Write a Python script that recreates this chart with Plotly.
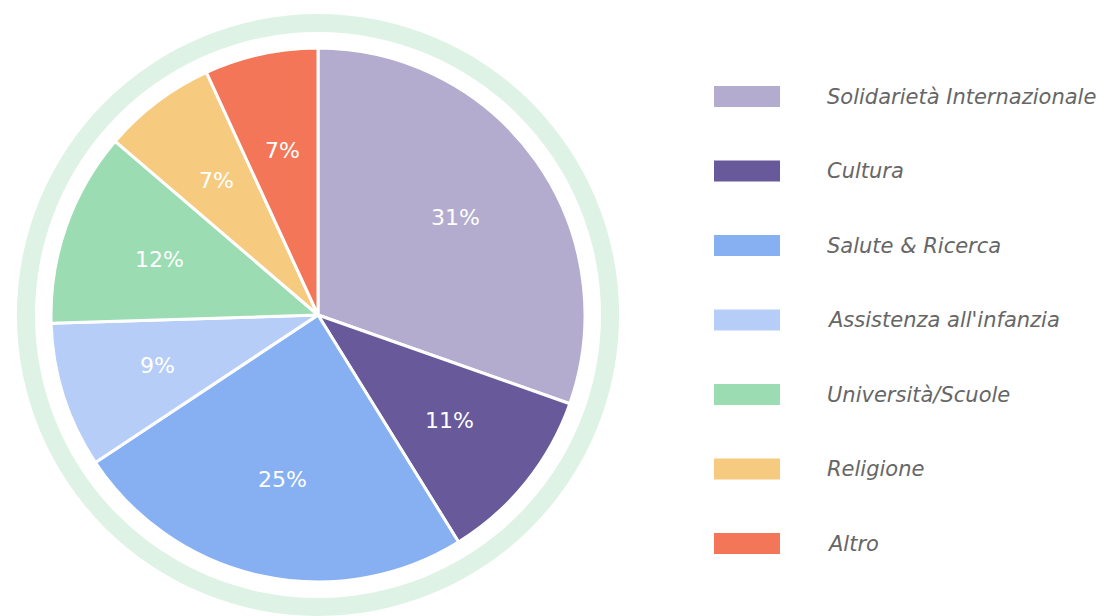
import math
import plotly.graph_objects as go

categories = ["Solidarietà Internazionale", "Cultura", "Salute & Ricerca",
              "Assistenza all'infanzia", "Università/Scuole", "Religione", "Altro"]
values = [31, 11, 25, 9, 12, 7, 7]
colors = ["#b3acce", "#685a9a", "#86b0f2", "#b6cef7", "#9cdcb2", "#f6cb80", "#f47658"]

W, H = 1115, 616
OFF = 8  # page body margin
cx, cy = 318 - OFF, 315 - OFF
r_pie, r_ring_out, r_ring_in = 267, 301, 283
FONT = "DejaVu Sans"


def dom(r):
    return dict(x=[(cx - r) / W, (cx + r) / W],
                y=[(H - (cy + r)) / H, (H - (cy - r)) / H])


fig = go.Figure()
fig.add_trace(go.Pie(
    values=[1], labels=["ring"], hole=r_ring_in / r_ring_out, sort=False,
    marker=dict(colors=["#def3e6"], line=dict(width=0)),
    textinfo="none", hoverinfo="skip", showlegend=False, domain=dom(r_ring_out),
))
fig.add_trace(go.Pie(
    labels=categories, values=values, sort=False, direction="clockwise", rotation=0,
    marker=dict(colors=colors, line=dict(color="white", width=3)),
    textinfo="none", hovertemplate="%{label}: %{value}%<extra></extra>",
    showlegend=False, domain=dom(r_pie),
))

annotations, shapes = [], []
# slice labels at the mid-angle of each slice
total = sum(values)
cum = 0
for v in values:
    mid = (cum + v / 2) / total * 2 * math.pi
    cum += v
    R = 0.63 * r_pie
    px = cx + R * math.sin(mid)
    py = cy - R * math.cos(mid)
    annotations.append(dict(text=f"{v}%", xref="paper", yref="paper", x=px / W, y=1 - py / H,
                            xanchor="center", yanchor="middle", showarrow=False,
                            font=dict(family=FONT, size=22, color="white")))

# legend
y0, step = 96.5 - OFF, 74.5
x_rect0, x_rect1, x_text = 714 - OFF, 780 - OFF, 825 - OFF
for i, (cat, col) in enumerate(zip(categories, colors)):
    yc = y0 + step * i
    shapes.append(dict(type="rect", xref="paper", yref="paper",
                       x0=x_rect0 / W, x1=x_rect1 / W, y0=1 - (yc + 10.5) / H, y1=1 - (yc - 10.5) / H,
                       fillcolor=col, line=dict(width=0)))
    annotations.append(dict(text=cat, xref="paper", yref="paper", x=x_text / W, y=1 - yc / H,
                            xanchor="left", yanchor="middle", showarrow=False,
                            font=dict(family=FONT, size=21, color="#666666", style="italic")))

fig.update_layout(width=W, height=H, margin=dict(l=0, r=0, t=0, b=0),
                  paper_bgcolor="white", plot_bgcolor="white",
                  shapes=shapes, annotations=annotations)
fig.write_html("out.html")
